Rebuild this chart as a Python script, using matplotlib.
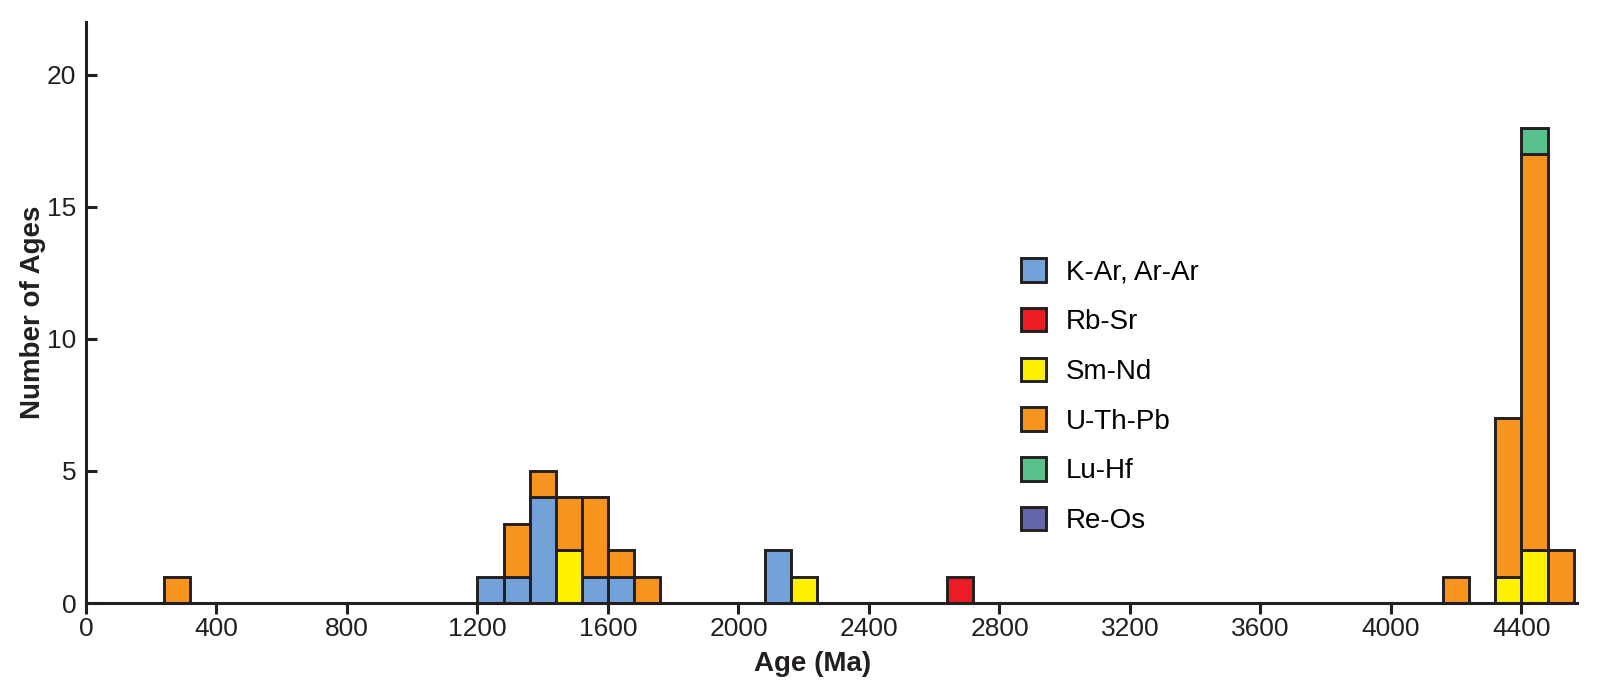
#!/usr/bin/env python3
"""Stacked histogram of radiometric ages (80 Ma bins), coloured by dating method."""

import matplotlib

matplotlib.use("Agg")
import matplotlib.pyplot as plt
from matplotlib.patches import Patch
import numpy as np

# left edge of each occupied 80 Ma bin
bin_left = [240, 1200, 1280, 1360, 1440, 1520, 1600, 1680, 2080, 2160, 2640, 4160, 4320, 4400, 4480]
bin_width = 80

# counts per method, same order as bin_left
kar_arar = [0, 1, 1, 4, 0, 1, 1, 0, 2, 0, 0, 0, 0, 0, 0]
rb_sr = [0, 0, 0, 0, 0, 0, 0, 0, 0, 0, 1, 0, 0, 0, 0]
sm_nd = [0, 0, 0, 0, 2, 0, 0, 0, 0, 1, 0, 0, 1, 2, 0]
u_th_pb = [1, 0, 2, 1, 2, 3, 1, 1, 0, 0, 0, 1, 6, 15, 2]
lu_hf = [0, 0, 0, 0, 0, 0, 0, 0, 0, 0, 0, 0, 0, 1, 0]
re_os = [0, 0, 0, 0, 0, 0, 0, 0, 0, 0, 0, 0, 0, 0, 0]

methods = ["K-Ar, Ar-Ar", "Rb-Sr", "Sm-Nd", "U-Th-Pb", "Lu-Hf", "Re-Os"]
colors = ["#73a2d9", "#ed1c24", "#fff200", "#f7941e", "#58c08a", "#6466a8"]

x_ticks = [0, 400, 800, 1200, 1600, 2000, 2400, 2800, 3200, 3600, 4000, 4400]
y_ticks = [0, 5, 10, 15, 20]

EDGE = "#231f20"

plt.rcParams["font.family"] = ["Liberation Sans", "DejaVu Sans"]

fig = plt.figure(figsize=(16.0, 6.89), dpi=100)
ax = fig.add_axes([0.05375, 0.1248, 0.9856 - 0.05375, 0.968 - 0.1248])

series = [kar_arar, rb_sr, sm_nd, u_th_pb, lu_hf, re_os]
bottom = np.zeros(len(bin_left))
for counts, color in zip(series, colors):
    c = np.asarray(counts, dtype=float)
    m = c > 0
    if m.any():
        ax.bar(
            np.asarray(bin_left)[m],
            c[m],
            width=bin_width,
            bottom=bottom[m],
            align="edge",
            color=color,
            edgecolor=EDGE,
            linewidth=2.1,
            zorder=3,
        )
    bottom += c

ax.set_xlim(0, 4570)
ax.set_ylim(0, 22)
ax.set_xticks(x_ticks)
ax.set_yticks(y_ticks)

for side in ("top", "right"):
    ax.spines[side].set_visible(False)
for side in ("left", "bottom"):
    ax.spines[side].set_linewidth(2.2)
    ax.spines[side].set_color(EDGE)
    ax.spines[side].set_zorder(4)

ax.tick_params(axis="x", direction="out", length=8, width=2.2, color=EDGE,
               labelsize=19, pad=2, labelcolor=EDGE)
ax.tick_params(axis="y", direction="in", length=8, width=2.2, color=EDGE,
               labelsize=19, pad=7, labelcolor=EDGE)

ax.set_xlabel("Age (Ma)", fontsize=20, fontweight="bold", color=EDGE, labelpad=7, x=0.487)
ax.set_ylabel("Number of Ages", fontsize=20, fontweight="bold", color=EDGE, labelpad=1)

handles = [Patch(facecolor=c, edgecolor=EDGE, linewidth=2.1) for c in colors]
ax.legend(
    handles,
    methods,
    loc="center left",
    bbox_to_anchor=(0.627, 0.356),
    frameon=False,
    fontsize=20,
    handlelength=0.92,
    handleheight=0.92,
    handletextpad=0.7,
    labelspacing=0.81,
    borderpad=0,
    borderaxespad=0,
)

fig.savefig("out.png", dpi=100)
plt.close(fig)
